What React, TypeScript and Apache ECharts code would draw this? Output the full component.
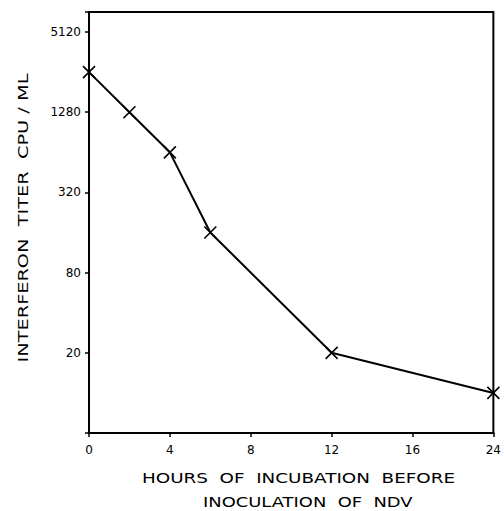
import React, { useEffect, useRef } from "react";
import * as echarts from "echarts";

const hours = [0, 2, 4, 6, 12, 24];
const titers = [2560, 1280, 640, 160, 20, 10];
const hourTicks = [0, 4, 8, 12, 16, 24];
const yTickLabels = [20, 80, 320, 1280, 5120];
const xTitle = "HOURS  OF  INCUBATION  BEFORE";
const xTitle2 = "INOCULATION  OF  NDV";
const yTitle = "INTERFERON  TITER  CPU / ML";

const BASE = 5; // titer at bottom of frame
// position of an hour on the broken x-axis (ticks evenly spaced)
function hourPos(h: number): number {
  for (let i = 0; i < hourTicks.length - 1; i++) {
    const a = hourTicks[i], b = hourTicks[i + 1];
    if (h <= b) return i * 4 + ((h - a) / (b - a)) * 4;
  }
  return (hourTicks.length - 1) * 4;
}
const logPos = (v: number) => Math.log(v / BASE) / Math.log(4);

export default function App() {
  const ref = useRef<HTMLDivElement>(null);
  useEffect(() => {
    if (!ref.current) return;
    const chart = echarts.init(ref.current, null, { renderer: "svg" });
    const font = "DejaVu Sans";
    chart.setOption({
      animation: false,
      backgroundColor: "#fff",
      grid: {
        left: 89, right: 10, top: 12, bottom: 78,
        show: true, borderColor: "#000", borderWidth: 2,
      },
      xAxis: {
        type: "value",
        min: 0,
        max: (hourTicks.length - 1) * 4,
        interval: 4,
        splitLine: { show: false },
        axisLine: { lineStyle: { color: "#000", width: 2 } },
        axisTick: { inside: false, length: 4, lineStyle: { color: "#000", width: 1.5 } },
        axisLabel: {
          color: "#000", fontSize: 12, fontFamily: font, margin: 11,
          formatter: (v: number) => {
            const i = Math.round(v / 4);
            return Math.abs(v - i * 4) < 1e-6 && hourTicks[i] !== undefined ? String(hourTicks[i]) : "";
          },
        },
      },
      yAxis: {
        type: "value",
        min: 0,
        max: 5.25,
        interval: 1,
        splitLine: { show: false },
        axisLine: { lineStyle: { color: "#000", width: 2 } },
        axisTick: { inside: false, length: 4, lineStyle: { color: "#000", width: 1.5 } },
        axisLabel: {
          color: "#000", fontSize: 12, fontFamily: font, margin: 8,
          formatter: (v: number) => {
            const lab = yTickLabels.find((t) => Math.abs(logPos(t) - v) < 1e-6);
            return lab !== undefined ? String(lab) : "";
          },
        },
      },
      graphic: [
        {
          type: "text", x: 142, y: 478, scaleX: 1.31,
          style: { text: xTitle, fill: "#000", fontSize: 14, fontFamily: font, textAlign: "left", textVerticalAlign: "middle" },
        },
        {
          type: "text", x: 203, y: 502, scaleX: 1.28,
          style: { text: xTitle2, fill: "#000", fontSize: 14, fontFamily: font, textAlign: "left", textVerticalAlign: "middle" },
        },
        {
          type: "text", x: 23, y: 218, rotation: Math.PI / 2, scaleX: 1.38,
          style: { text: yTitle, fill: "#000", fontSize: 14, fontFamily: font, textAlign: "center", textVerticalAlign: "middle" },
        },
      ],
      series: [
        {
          type: "line",
          data: hours.map((h, i) => [hourPos(h), logPos(titers[i])]),
          symbol: "path://M0 0L10 10M10 0L0 10",
          symbolSize: 12,
          showSymbol: true,
          lineStyle: { color: "#000", width: 2 },
          itemStyle: { color: "none", borderColor: "#000", borderWidth: 1.6 },
        },
      ],
    });
    return () => chart.dispose();
  }, []);
  return <div ref={ref} style={{ width: 504, height: 511, position: "absolute", left: 0, top: 0 }} />;
}
